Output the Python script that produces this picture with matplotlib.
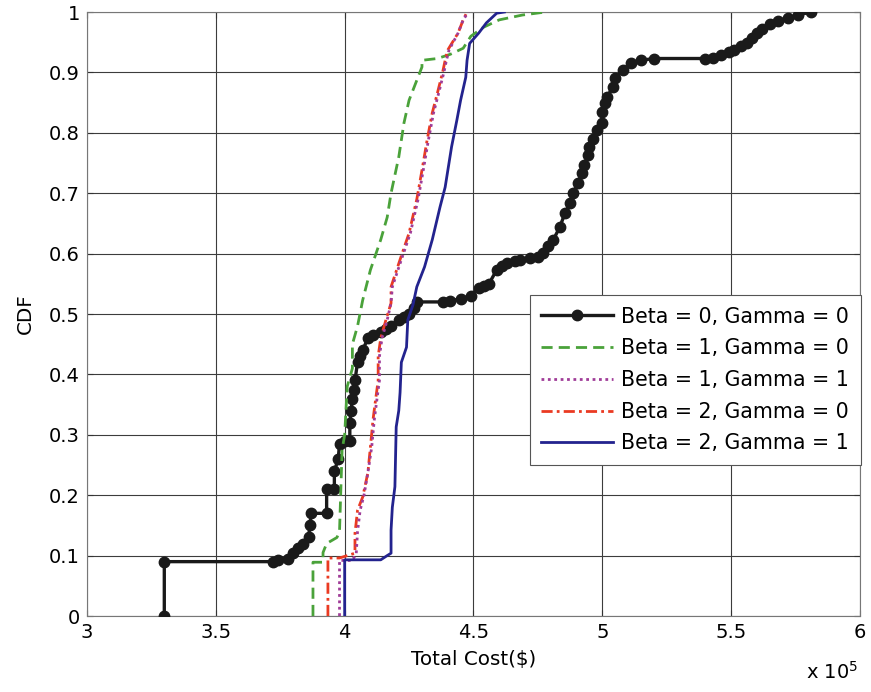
import matplotlib
matplotlib.use("Agg")
import matplotlib.pyplot as plt

# Total cost values in units of 10^5 $, with the empirical CDF level at each vertex
cost_b0_g0 = [3.30, 3.30, 3.72, 3.74, 3.78, 3.80, 3.82, 3.84, 3.86, 3.865, 3.87, 3.93, 3.93,
              3.96, 3.96, 3.975, 3.98, 4.00, 4.02, 4.02, 4.025, 4.03, 4.035, 4.04, 4.05, 4.06,
              4.07, 4.09, 4.11, 4.14, 4.16, 4.18, 4.21, 4.23, 4.25, 4.27, 4.28, 4.38, 4.41,
              4.45, 4.49, 4.52, 4.54, 4.56, 4.59, 4.61, 4.63, 4.66, 4.68, 4.72, 4.75, 4.77,
              4.79, 4.81, 4.835, 4.855, 4.875, 4.886, 4.905, 4.92, 4.93, 4.945, 4.95, 4.965,
              4.98, 5.00, 5.00, 5.01, 5.02, 5.04, 5.05, 5.08, 5.11, 5.15, 5.20, 5.40, 5.43,
              5.46, 5.49, 5.51, 5.54, 5.56, 5.58, 5.60, 5.62, 5.65, 5.68, 5.72, 5.76, 5.81]
cdf_b0_g0 = [0.0, 0.09, 0.09, 0.093, 0.095, 0.105, 0.113, 0.12, 0.13, 0.15, 0.17, 0.17, 0.21,
             0.21, 0.24, 0.26, 0.285, 0.29, 0.29, 0.32, 0.34, 0.36, 0.375, 0.39, 0.42, 0.43,
             0.44, 0.46, 0.465, 0.47, 0.475, 0.48, 0.49, 0.495, 0.50, 0.51, 0.52, 0.52, 0.522,
             0.525, 0.53, 0.543, 0.547, 0.55, 0.573, 0.58, 0.585, 0.588, 0.59, 0.592, 0.594, 0.601,
             0.612, 0.623, 0.644, 0.667, 0.684, 0.70, 0.717, 0.733, 0.747, 0.763, 0.777, 0.79,
             0.805, 0.816, 0.834, 0.849, 0.86, 0.876, 0.89, 0.904, 0.915, 0.92, 0.923, 0.923, 0.924,
             0.928, 0.933, 0.937, 0.943, 0.948, 0.957, 0.965, 0.972, 0.98, 0.985, 0.99, 0.995, 1.0]

cost_b1_g0 = [3.877, 3.877, 3.916, 3.916, 3.93, 3.97, 3.98, 3.99, 4.00, 4.01, 4.03, 4.03,
              4.05, 4.07, 4.10, 4.14, 4.165, 4.18, 4.21, 4.23, 4.25, 4.28, 4.30, 4.30, 4.36,
              4.41, 4.46, 4.49, 4.54, 4.60, 4.69, 4.78]
cdf_b1_g0 = [0.0, 0.089, 0.089, 0.105, 0.12, 0.13, 0.14, 0.275, 0.30, 0.38, 0.41, 0.45,
             0.48, 0.523, 0.573, 0.623, 0.66, 0.70, 0.76, 0.816, 0.854, 0.887, 0.909, 0.92, 0.923,
             0.93, 0.94, 0.96, 0.975, 0.987, 0.995, 1.0]

cost_b1_g1 = [3.98, 3.98, 4.03, 4.045, 4.05, 4.06, 4.075, 4.09, 4.105, 4.115, 4.125, 4.135,
              4.135, 4.145, 4.165, 4.18, 4.185, 4.22, 4.255, 4.285, 4.305, 4.325, 4.345, 4.365,
              4.385, 4.395, 4.405, 4.44, 4.46, 4.48]
cdf_b1_g1 = [0.0, 0.092, 0.092, 0.104, 0.14, 0.175, 0.20, 0.237, 0.28, 0.325, 0.358, 0.39,
             0.43, 0.46, 0.49, 0.518, 0.545, 0.59, 0.634, 0.69, 0.738, 0.788, 0.833, 0.866,
             0.90, 0.92, 0.937, 0.965, 0.987, 1.0]

cost_b2_g0 = [3.935, 3.935, 3.98, 4.04, 4.04, 4.05, 4.07, 4.09, 4.10, 4.11, 4.12, 4.13,
              4.13, 4.14, 4.16, 4.18, 4.18, 4.215, 4.25, 4.28, 4.30, 4.32, 4.34, 4.36, 4.38,
              4.39, 4.40, 4.44, 4.46, 4.475]
cdf_b2_g0 = [0.0, 0.096, 0.096, 0.104, 0.137, 0.175, 0.197, 0.237, 0.28, 0.325, 0.358, 0.39,
             0.43, 0.46, 0.49, 0.518, 0.545, 0.59, 0.634, 0.69, 0.738, 0.788, 0.833, 0.866,
             0.90, 0.92, 0.937, 0.965, 0.987, 1.0]

cost_b2_g1 = [4.00, 4.00, 4.14, 4.165, 4.18, 4.18, 4.185, 4.195, 4.20, 4.21, 4.215, 4.22,
              4.24, 4.245, 4.265, 4.28, 4.31, 4.34, 4.37, 4.39, 4.415, 4.435, 4.45, 4.47,
              4.475, 4.485, 4.52, 4.55, 4.59, 4.62]
cdf_b2_g1 = [0.0, 0.093, 0.093, 0.10, 0.104, 0.142, 0.18, 0.214, 0.313, 0.34, 0.37, 0.42,
             0.445, 0.49, 0.515, 0.545, 0.578, 0.623, 0.677, 0.71, 0.777, 0.82, 0.854, 0.892,
             0.92, 0.948, 0.965, 0.982, 0.998, 1.0]

labels = ["Beta = 0, Gamma = 0", "Beta = 1, Gamma = 0", "Beta = 1, Gamma = 1",
          "Beta = 2, Gamma = 0", "Beta = 2, Gamma = 1"]
x_ticks = [3, 3.5, 4, 4.5, 5, 5.5, 6]
x_tick_labels = ["3", "3.5", "4", "4.5", "5", "5.5", "6"]
y_ticks = [0, 0.1, 0.2, 0.3, 0.4, 0.5, 0.6, 0.7, 0.8, 0.9, 1]
y_tick_labels = ["0", "0.1", "0.2", "0.3", "0.4", "0.5", "0.6", "0.7", "0.8", "0.9", "1"]

plt.rcParams["font.family"] = ["DejaVu Sans"]

fig = plt.figure(figsize=(8.71, 6.92), dpi=100)
ax = fig.add_axes([87 / 871, 76 / 692, 773 / 871, 604 / 692])

ax.plot(cost_b0_g0, cdf_b0_g0, color="#1a1a1a", lw=2.4, marker="o", ms=7.5,
        label=labels[0], zorder=3)
ax.plot(cost_b1_g0, cdf_b1_g0, color="#4aa23a", lw=2.0, ls=(0, (4, 2.2)),
        label=labels[1], zorder=4)
ax.plot(cost_b1_g1, cdf_b1_g1, color="#a03c98", lw=2.0, ls=(0, (1, 1.3)),
        label=labels[2], zorder=5)
ax.plot(cost_b2_g0, cdf_b2_g0, color="#ea3a22", lw=2.0, ls=(0, (4, 1.5, 1, 1.5)),
        label=labels[3], zorder=4)
ax.plot(cost_b2_g1, cdf_b2_g1, color="#23238e", lw=2.0, label=labels[4], zorder=6)

ax.set_xlim(3, 6)
ax.set_ylim(0, 1)
ax.set_xticks(x_ticks)
ax.set_xticklabels(x_tick_labels)
ax.set_yticks(y_ticks)
ax.set_yticklabels(y_tick_labels)
ax.tick_params(direction="in", length=4, width=0.8, top=True, right=True,
               labelsize=14, pad=5, color="#333333")
ax.grid(True, color="#3c3c3c", lw=0.8)
ax.set_axisbelow(True)
for sp in ax.spines.values():
    sp.set_color("#777777")
    sp.set_linewidth(0.8)

ax.set_xlabel("Total Cost($)", fontsize=14.3, labelpad=6)
ax.set_ylabel("CDF", fontsize=14.3, labelpad=10)
fig.text(832 / 871, 1 - 672 / 692, r"x 10$^{5}$", fontsize=14, ha="center", va="center")

leg = ax.legend(loc="upper left", bbox_to_anchor=(0.573, 0.531), fontsize=14.8,
                handlelength=3.5, labelspacing=0.57, borderpad=0.55, handletextpad=0.4,
                frameon=True, fancybox=False, framealpha=1, borderaxespad=0)
leg.get_frame().set_edgecolor("#555555")
leg.get_frame().set_linewidth(0.8)

fig.savefig("out.png", dpi=100)
